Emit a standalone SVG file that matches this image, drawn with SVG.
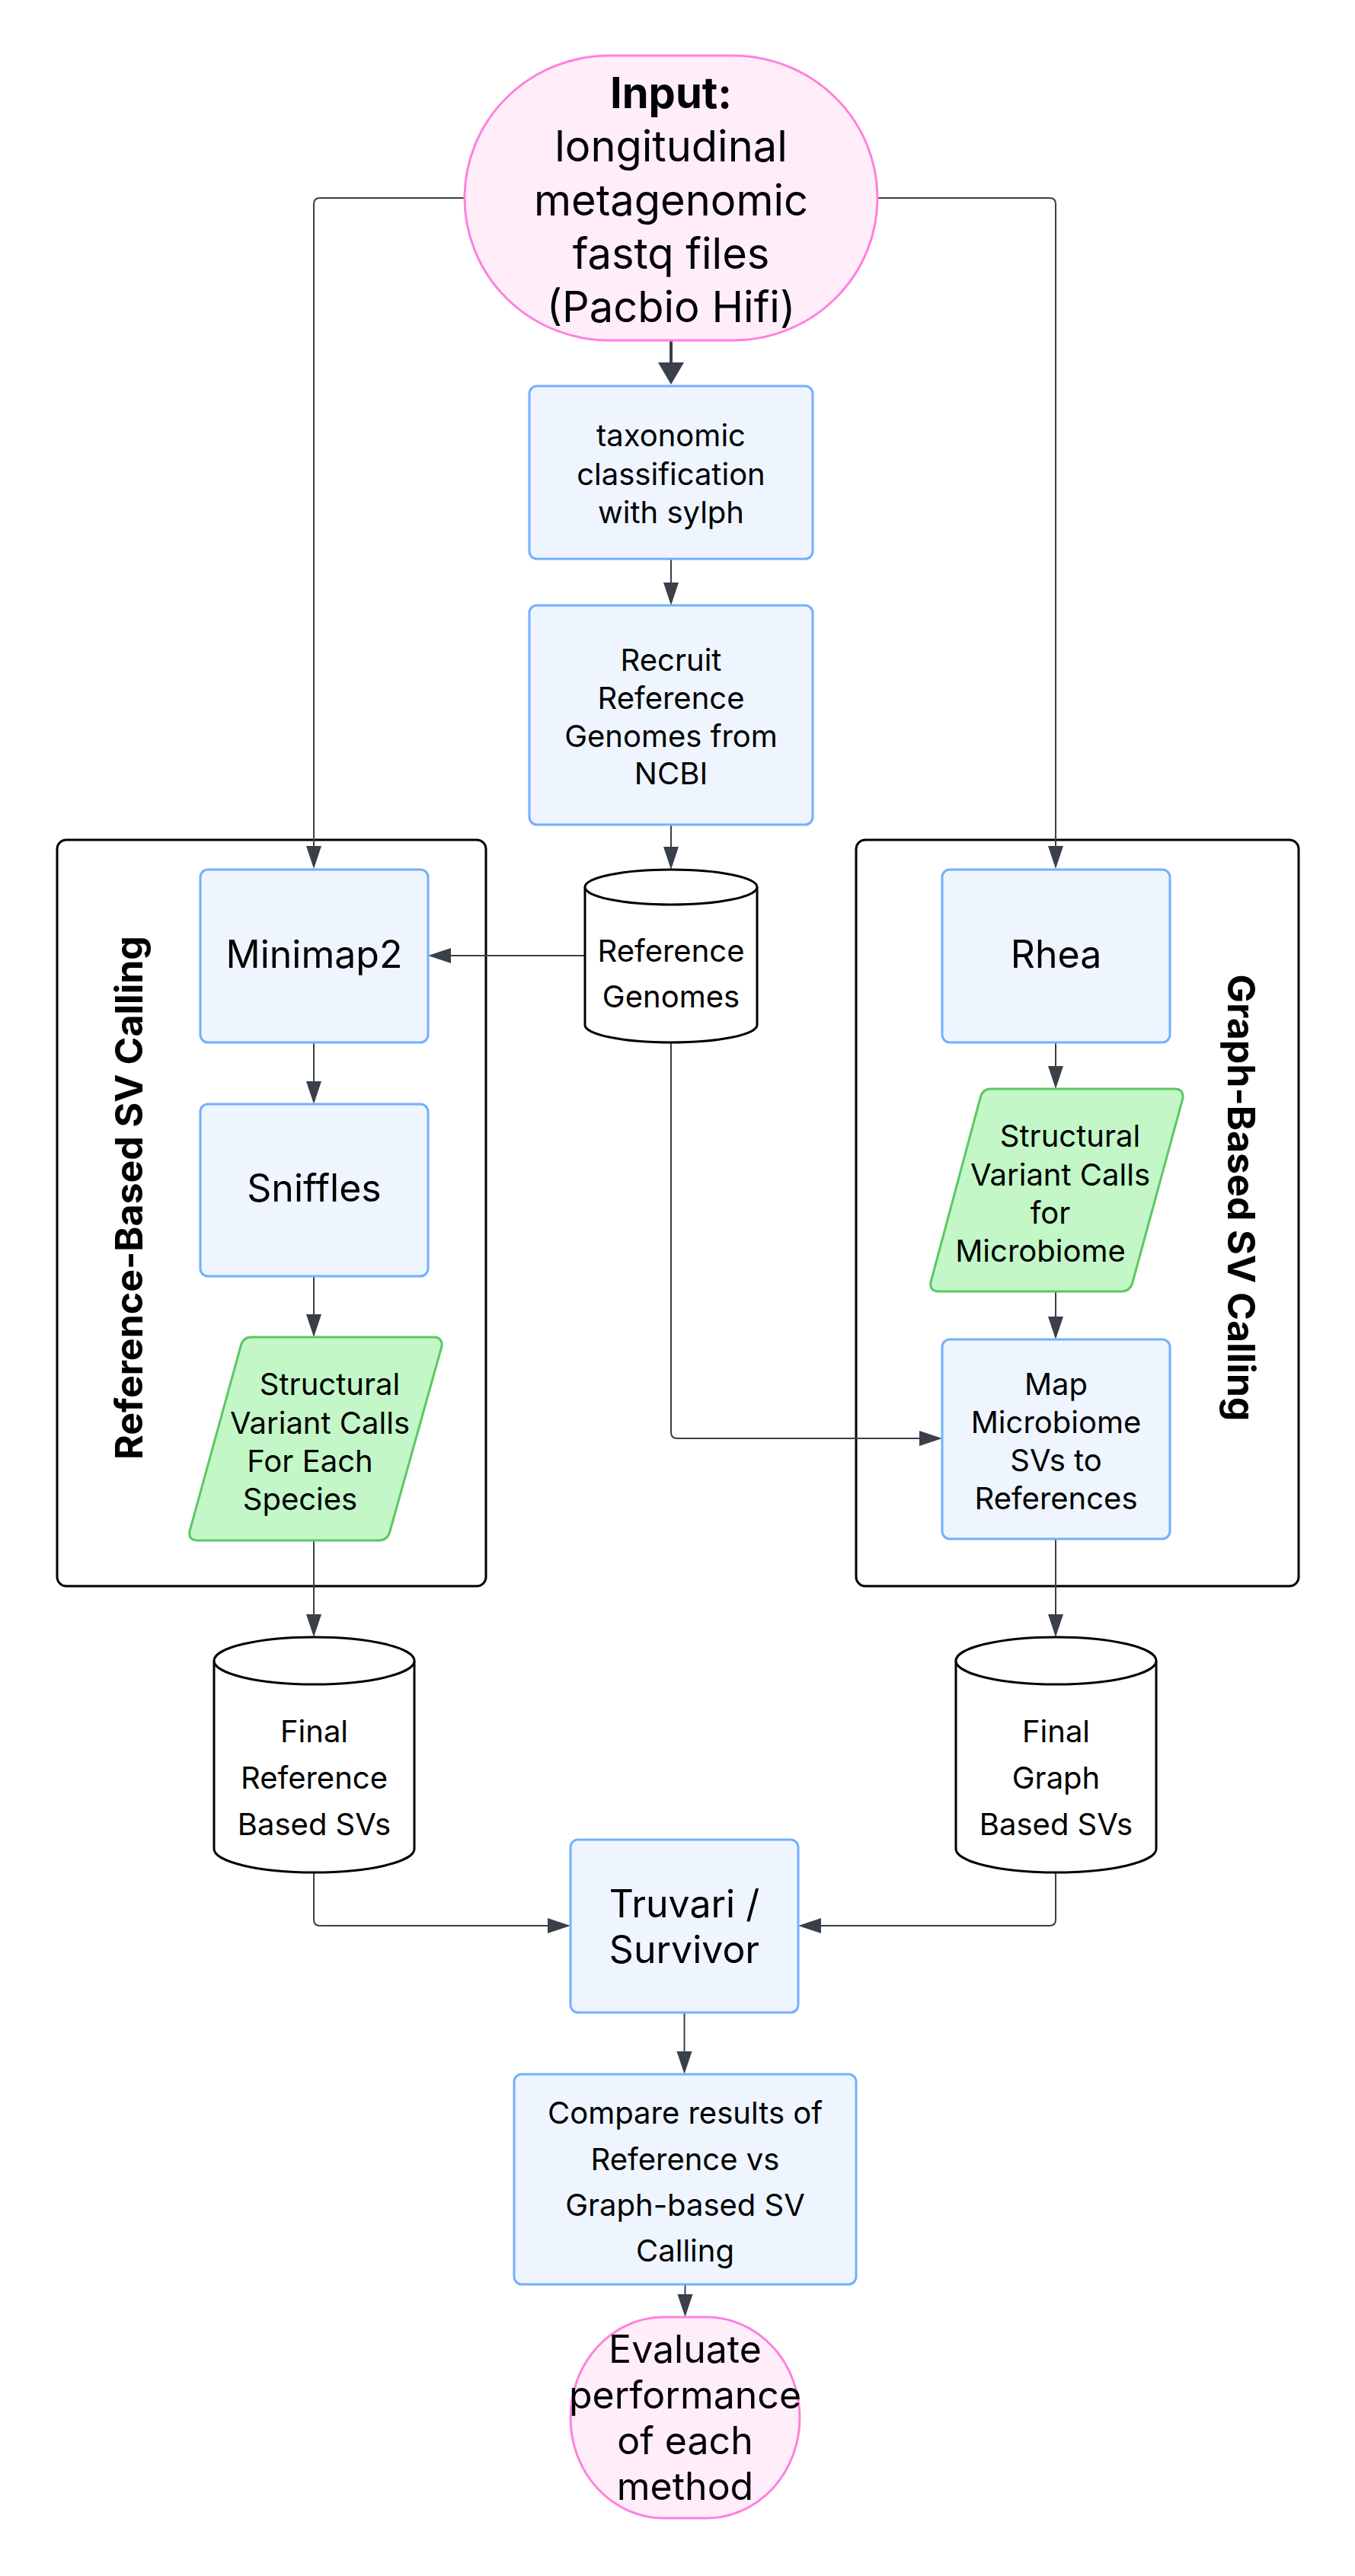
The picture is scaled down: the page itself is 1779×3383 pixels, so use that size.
<svg xmlns="http://www.w3.org/2000/svg" width="1779" height="3383" viewBox="0 0 1779 3383">
<style>
text{font-family:Inter,"Liberation Sans",sans-serif;fill:#000;text-anchor:middle}
.s{font-size:40px}
.b{font-size:50px}
.i{font-size:56px}
.t{font-size:50px;font-weight:700}
.box{fill:#EEF5FF;stroke:#72B0FD;stroke-width:3}
.para{fill:#C3F7C8;stroke:#5BC862;stroke-width:3;stroke-linejoin:round}
.term{fill:#FFEEFA;stroke:#FF80DF;stroke-width:3}
.cyl{fill:#fff;stroke:#000;stroke-width:3}
.grp{fill:none;stroke:#000;stroke-width:3}
.ln{fill:none;stroke:#3A4049;stroke-width:2}
.ah{fill:#3A4049}
</style>
<rect width="1779" height="3383" fill="#fff"/>

<g id="group-reference">
<rect class="grp" x="75" y="1103" width="563" height="980" rx="12"/>
<text class="t" transform="translate(187,1573) rotate(-90)" x="0" y="0">Reference-Based SV Calling</text>
</g>
<g id="group-graph">
<rect class="grp" x="1124" y="1103" width="581" height="980" rx="12"/>
<text class="t" transform="translate(1612,1573) rotate(90)" x="0" y="0">Graph-Based SV Calling</text>
</g>

<g id="connectors">
<line class="ln" x1="881" y1="447" x2="881" y2="478" style="stroke-width:4"/>
<polygon class="ah" points="864,476 898,476 881,505"/>
<path class="ln" d="M610,260 H420 Q412,260 412,268 V1113"/>
<polygon class="ah" points="402,1111 422,1111 412,1141"/>
<path class="ln" d="M1152,260 H1378 Q1386,260 1386,268 V1113"/>
<polygon class="ah" points="1376,1111 1396,1111 1386,1141"/>
<line class="ln" x1="881" y1="734" x2="881" y2="767"/>
<polygon class="ah" points="871,765 891,765 881,795"/>
<line class="ln" x1="881" y1="1083" x2="881" y2="1114"/>
<polygon class="ah" points="871,1112 891,1112 881,1142"/>
<line class="ln" x1="768" y1="1255" x2="590" y2="1255"/>
<polygon class="ah" points="592,1245 592,1265 562,1255"/>
<line class="ln" x1="412" y1="1369" x2="412" y2="1422"/>
<polygon class="ah" points="402,1420 422,1420 412,1450"/>
<line class="ln" x1="412" y1="1676" x2="412" y2="1728"/>
<polygon class="ah" points="402,1726 422,1726 412,1756"/>
<line class="ln" x1="412" y1="2023" x2="412" y2="2122"/>
<polygon class="ah" points="402,2120 422,2120 412,2150"/>
<line class="ln" x1="1386" y1="1369" x2="1386" y2="1402"/>
<polygon class="ah" points="1376,1400 1396,1400 1386,1430"/>
<line class="ln" x1="1386" y1="1696" x2="1386" y2="1731"/>
<polygon class="ah" points="1376,1729 1396,1729 1386,1759"/>
<path class="ln" d="M881,1369 V1881 Q881,1889 889,1889 H1209"/>
<polygon class="ah" points="1207,1879 1207,1899 1237,1889"/>
<line class="ln" x1="1386" y1="2021" x2="1386" y2="2122"/>
<polygon class="ah" points="1376,2120 1396,2120 1386,2150"/>
<path class="ln" d="M412,2459 V2521 Q412,2529 420,2529 H721"/>
<polygon class="ah" points="719,2519 719,2539 749,2529"/>
<path class="ln" d="M1386,2459 V2521 Q1386,2529 1378,2529 H1076"/>
<polygon class="ah" points="1078,2519 1078,2539 1048,2529"/>
<line class="ln" x1="898.5" y1="2643" x2="898.5" y2="2696"/>
<polygon class="ah" points="888.5,2694 908.5,2694 898.5,2724"/>
<line class="ln" x1="899.5" y1="3000" x2="899.5" y2="3015"/>
<polygon class="ah" points="889.5,3013 909.5,3013 899.5,3043"/>
</g>

<g id="input">
<rect class="term" x="610" y="73" width="542" height="374" rx="190" ry="187"/>
<text class="i" x="881" y="142" font-weight="700">Input:</text>
<text class="i" x="881" y="212">longitudinal</text>
<text class="i" x="881" y="283">metagenomic</text>
<text class="i" x="881" y="353">fastq files</text>
<text class="i" x="881" y="423">(Pacbio Hifi)</text>
</g>

<g id="taxonomic">
<rect class="box" x="695" y="507" width="372" height="227" rx="10"/>
<text class="s" x="881" y="586">taxonomic</text>
<text class="s" x="881" y="637">classification</text>
<text class="s" x="881" y="687">with sylph</text>
</g>

<g id="recruit">
<rect class="box" x="695" y="795" width="372" height="288" rx="10"/>
<text class="s" x="881" y="881">Recruit</text>
<text class="s" x="881" y="931">Reference</text>
<text class="s" x="881" y="981">Genomes from</text>
<text class="s" x="881" y="1030">NCBI</text>
</g>

<g id="reference-genomes">
<path class="cyl" d="M768,1165 A113,23 0 0,1 994,1165 L994,1346 A113,23 0 0,1 768,1346 Z"/>
<path class="cyl" d="M768,1165 A113,23 0 0,0 994,1165"/>
<text class="s" x="881" y="1263">Reference</text>
<text class="s" x="881" y="1323">Genomes</text>
</g>

<g id="minimap2">
<rect class="box" x="263" y="1142" width="299" height="227" rx="10"/>
<text class="b" x="412.5" y="1271">Minimap2</text>
</g>

<g id="sniffles">
<rect class="box" x="263" y="1450" width="299" height="226" rx="10"/>
<text class="b" x="412.5" y="1578">Sniffles</text>
</g>

<g id="sv-calls-species">
<path class="para" d="M330,1756 H569 Q581,1756 580,1768 L512,2011 Q509,2023 497,2023 H260 Q247,2023 249,2011 L316,1768 Q319,1756 330,1756 Z"/>
<text class="s" x="433" y="1832">Structural</text>
<text class="s" x="420" y="1883">Variant Calls</text>
<text class="s" x="407" y="1933">For Each</text>
<text class="s" x="394" y="1983">Species</text>
</g>

<g id="rhea">
<rect class="box" x="1237" y="1142" width="299" height="227" rx="10"/>
<text class="b" x="1386.5" y="1271">Rhea</text>
</g>

<g id="sv-calls-microbiome">
<path class="para" d="M1301,1430 H1542 Q1554,1430 1553,1442 L1487,1684 Q1484,1696 1472,1696 H1233 Q1220,1696 1222,1684 L1287,1442 Q1290,1430 1301,1430 Z"/>
<text class="s" x="1405" y="1506">Structural</text>
<text class="s" x="1392" y="1557">Variant Calls</text>
<text class="s" x="1379" y="1607">for</text>
<text class="s" x="1366" y="1657">Microbiome</text>
</g>

<g id="map-svs">
<rect class="box" x="1237" y="1759" width="299" height="262" rx="10"/>
<text class="s" x="1386.5" y="1832">Map</text>
<text class="s" x="1386.5" y="1882">Microbiome</text>
<text class="s" x="1386.5" y="1932">SVs to</text>
<text class="s" x="1386.5" y="1982">References</text>
</g>

<g id="final-reference">
<path class="cyl" d="M281,2181 A131.5,31 0 0,1 544,2181 L544,2428 A131.5,31 0 0,1 281,2428 Z"/>
<path class="cyl" d="M281,2181 A131.5,31 0 0,0 544,2181"/>
<text class="s" x="412.5" y="2288">Final</text>
<text class="s" x="412.5" y="2349">Reference</text>
<text class="s" x="412.5" y="2410">Based SVs</text>
</g>

<g id="final-graph">
<path class="cyl" d="M1255,2181 A131.5,31 0 0,1 1518,2181 L1518,2428 A131.5,31 0 0,1 1255,2428 Z"/>
<path class="cyl" d="M1255,2181 A131.5,31 0 0,0 1518,2181"/>
<text class="s" x="1386.5" y="2288">Final</text>
<text class="s" x="1386.5" y="2349">Graph</text>
<text class="s" x="1386.5" y="2410">Based SVs</text>
</g>

<g id="truvari">
<rect class="box" x="749" y="2416" width="299" height="227" rx="10"/>
<text class="b" x="898.5" y="2518">Truvari /</text>
<text class="b" x="898.5" y="2578">Survivor</text>
</g>

<g id="compare">
<rect class="box" x="675" y="2724" width="449" height="276" rx="10"/>
<text class="s" x="899.5" y="2789">Compare results of</text>
<text class="s" x="899.5" y="2850">Reference vs</text>
<text class="s" x="899.5" y="2910">Graph-based SV</text>
<text class="s" x="899.5" y="2970">Calling</text>
</g>

<g id="evaluate">
<rect class="term" x="749" y="3043" width="301" height="264" rx="122" ry="132"/>
<text class="b" x="899.5" y="3103">Evaluate</text>
<text class="b" x="899.5" y="3163">performance</text>
<text class="b" x="899.5" y="3223">of each</text>
<text class="b" x="899.5" y="3283">method</text>
</g>
</svg>
